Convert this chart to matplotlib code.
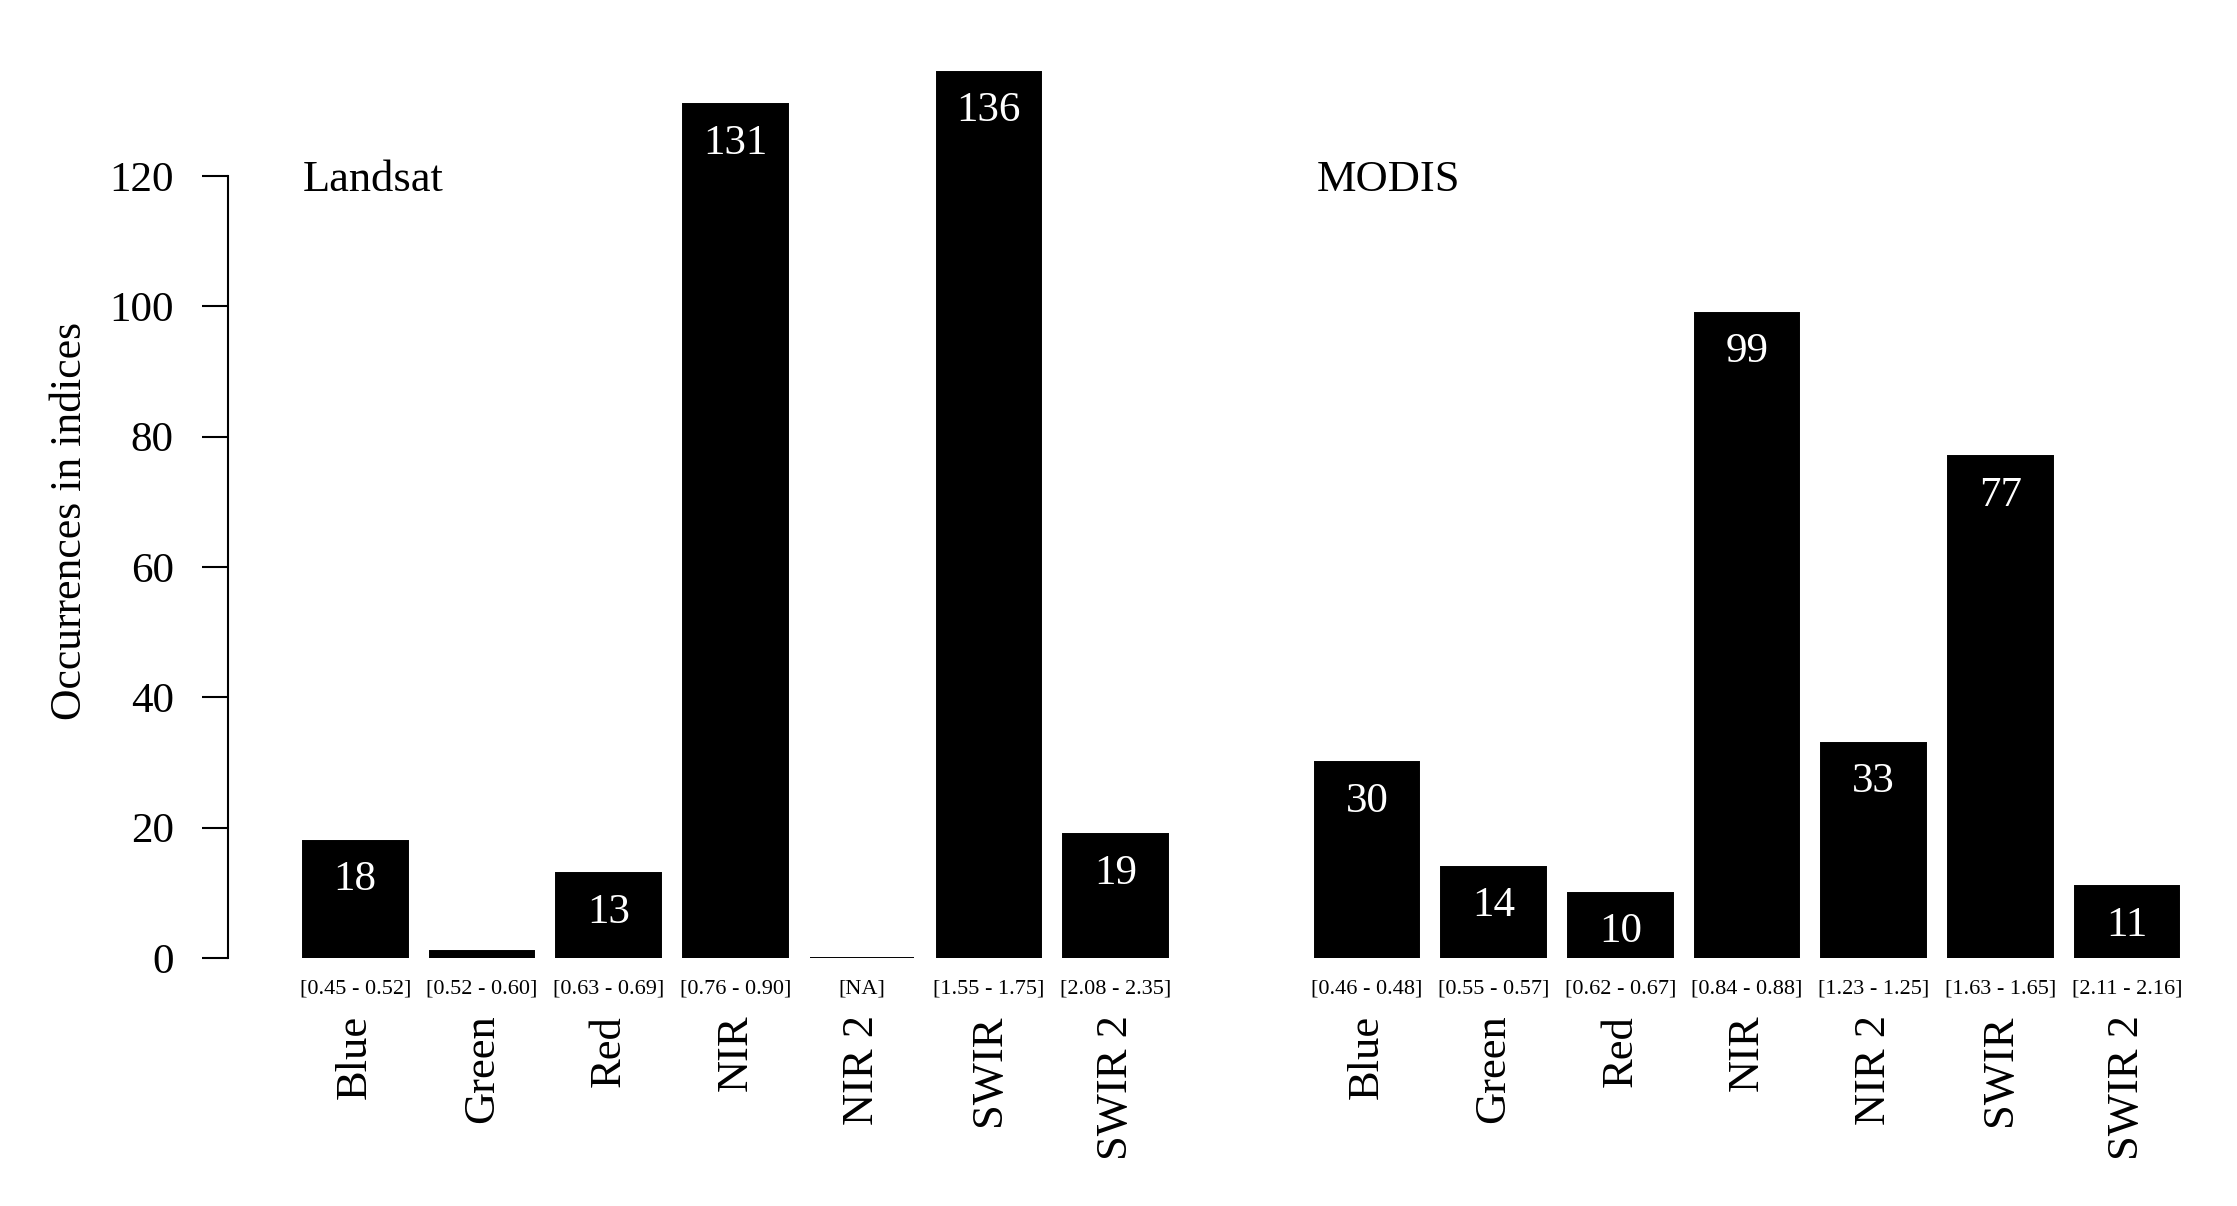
import numpy as np
import matplotlib
matplotlib.use("Agg")
import matplotlib.pyplot as plt

plt.rcParams['font.family'] = ['Liberation Serif', 'DejaVu Serif']

# data
bands = ["Blue", "Green", "Red", "NIR", "NIR 2", "SWIR", "SWIR 2"]
landsat_counts = [18, 1, 13, 131, 0, 136, 19]
modis_counts = [30, 14, 10, 99, 33, 77, 11]
landsat_ranges = ["[0.45 - 0.52]", "[0.52 - 0.60]", "[0.63 - 0.69]", "[0.76 - 0.90]",
                  "[NA]", "[1.55 - 1.75]", "[2.08 - 2.35]"]
modis_ranges = ["[0.46 - 0.48]", "[0.55 - 0.57]", "[0.62 - 0.67]", "[0.84 - 0.88]",
                "[1.23 - 1.25]", "[1.63 - 1.65]", "[2.11 - 2.16]"]
y_ticks = [0, 20, 40, 60, 80, 100, 120]

W, H = 2237, 1206
fig = plt.figure(figsize=(W / 100, H / 100), dpi=100)

# axes placement in pixels (left, right, zero line, top)
px_left, px_right, px_zero, px_top = 228, 2200, 958, 45.6
ax = fig.add_axes([px_left / W, (H - px_zero) / H,
                   (px_right - px_left) / W, (px_zero - px_top) / H])

# bar layout like R barplot: width 1, space 0.2
landsat_x = 0.7 + 1.2 * np.arange(len(bands))
modis_x = 10.28 + 1.2 * np.arange(len(bands))

for xs, counts, ranges, title, tx in [(landsat_x, landsat_counts, landsat_ranges, "Landsat", 0.0),
                                      (modis_x, modis_counts, modis_ranges, "MODIS", 0.03)]:
    ax.bar(xs, counts, width=0.99, color="black", edgecolor="black", linewidth=1.4)
    for x, v in zip(xs, counts):
        if v > 5:
            ax.text(x, v - 6.0, str(v), color="white", ha="center", va="center",
                    fontsize=31)
    for x, r, b in zip(xs, ranges, bands):
        ax.text(x, -4.8, r, ha="center", va="center", fontsize=16, clip_on=False)
        ax.text(x, -8.7, b, ha="center", va="top", rotation=90, fontsize=32,
                clip_on=False)
    ax.text(xs[0] - 0.5 + tx, 120, title, ha="left", va="center_baseline", fontsize=32)

ax.set_xlim(-0.505, 18.17)
ax.set_ylim(0, 140)

for s in ["top", "right", "bottom"]:
    ax.spines[s].set_visible(False)
ax.spines["left"].set_bounds(0, 120)
ax.spines["left"].set_linewidth(1.5)
ax.set_xticks([])
ax.set_yticks(y_ticks)
ax.tick_params(axis="y", direction="out", length=19, width=1.5, pad=20, labelsize=31)

fig.text(70 / W, 1 - 521 / H, "Occurrences in indices", rotation=90,
         ha="center", va="center", fontsize=31.5)

fig.savefig("out.png", dpi=100, facecolor="white")
